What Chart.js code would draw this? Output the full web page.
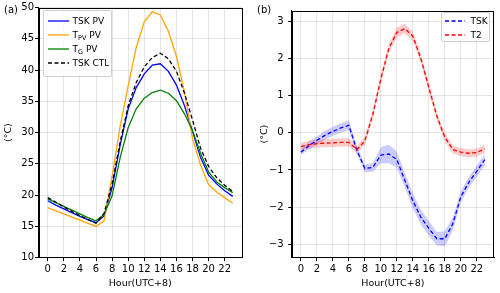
<!DOCTYPE html>
<html>
<head>
<meta charset="utf-8">
<script src="https://cdn.jsdelivr.net/npm/chart.js@4.4.1/dist/chart.umd.min.js"></script>
<style>
body{margin:0;background:#fff;font-family:"DejaVu Sans",sans-serif;}
#wrap{position:relative;width:500px;height:293px;overflow:hidden;}
canvas{position:absolute;top:0;}
.tag{position:absolute;font-size:10px;color:#000;}
.legend{position:absolute;background:rgba(255,255,255,0.8);border:1px solid #cfcfcf;border-radius:2px;box-sizing:border-box;}
.row{position:absolute;height:14px;line-height:14px;font-size:9px;white-space:nowrap;color:#000;}
.sw{position:absolute;overflow:visible;}
sub{font-size:6.5px;vertical-align:-2px;line-height:0;}
</style>
</head>
<body>
<div id="wrap">
  <canvas id="ca" width="250" height="293" style="left:0"></canvas>
  <canvas id="cb" width="250" height="293" style="left:250px"></canvas>
  <div class="tag" style="left:4px;top:4px">(a)</div>
  <div class="tag" style="left:257px;top:4px">(b)</div>

  <div class="legend" style="left:42.5px;top:10px;width:69px;height:67px">
    <svg class="sw" style="left:4px;top:7px" width="21" height="6"><line x1="0" y1="3" x2="21" y2="3" stroke="#0000ff" stroke-width="1.3"/></svg>
    <div class="row" style="left:29px;top:3px">TSK PV</div>
    <svg class="sw" style="left:4px;top:20.5px" width="21" height="6"><line x1="0" y1="3" x2="21" y2="3" stroke="#ffa500" stroke-width="1.3"/></svg>
    <div class="row" style="left:29px;top:16.5px">T<sub>PV</sub> PV</div>
    <svg class="sw" style="left:4px;top:34.5px" width="21" height="6"><line x1="0" y1="3" x2="21" y2="3" stroke="#008000" stroke-width="1.3"/></svg>
    <div class="row" style="left:29px;top:30.5px">T<sub>G</sub> PV</div>
    <svg class="sw" style="left:4px;top:48.5px" width="21" height="6"><line x1="0" y1="3" x2="21" y2="3" stroke="#000" stroke-width="1.3" stroke-dasharray="4 2.5"/></svg>
    <div class="row" style="left:29px;top:44.5px">TSK CTL</div>
  </div>

  <div class="legend" style="left:440.5px;top:12px;width:49px;height:30px">
    <svg class="sw" style="left:3.5px;top:5px" width="20" height="6"><line x1="0" y1="3" x2="20" y2="3" stroke="#0000ff" stroke-width="1.3" stroke-dasharray="4 2.5"/></svg>
    <div class="row" style="left:29px;top:1px">TSK</div>
    <svg class="sw" style="left:3.5px;top:18.5px" width="20" height="6"><line x1="0" y1="3" x2="20" y2="3" stroke="#ff0000" stroke-width="1.3" stroke-dasharray="4 2.5"/></svg>
    <div class="row" style="left:29px;top:14.5px">T2</div>
  </div>
</div>

<script>
// hours and ticks
var hours = [0,1,2,3,4,5,6,7,8,9,10,11,12,13,14,15,16,17,18,19,20,21,22,23];
var hourTicks = [0,2,4,6,8,10,12,14,16,18,20,22];
var tempTicks = [10,15,20,25,30,35,40,45,50];
var diffTicks = [-3,-2,-1,0,1,2,3];

// (a) temperatures
var tskPV  = [19.1,18.4,17.8,17.2,16.6,16.1,15.6,16.7,21.2,28.0,33.8,37.2,39.4,40.8,41.0,39.8,37.6,34.3,30.2,26.0,23.2,21.8,20.7,19.8];
var tPV    = [18.0,17.5,17.0,16.5,16.0,15.5,15.0,15.9,23.0,31.0,37.5,43.6,47.7,49.3,48.8,46.2,42.2,36.5,29.0,24.8,21.7,20.5,19.6,18.7];
var tG     = [19.4,18.8,18.2,17.6,17.0,16.4,15.9,16.9,19.9,26.0,30.8,33.8,35.5,36.4,36.8,36.3,35.1,33.0,30.3,26.7,23.7,22.1,21.2,20.4];
var tskCTL = [19.6,18.9,18.1,17.4,16.7,16.1,15.5,17.1,21.8,28.5,34.3,38.0,40.5,42.0,42.7,41.8,39.8,36.3,32.0,27.5,24.6,22.8,21.6,20.6];

// (b) differences with spread
var dTSK      = [-0.52,-0.35,-0.20,-0.07,0.04,0.13,0.20,-0.47,-0.96,-0.93,-0.60,-0.57,-0.72,-1.28,-1.83,-2.27,-2.57,-2.85,-2.85,-2.45,-1.72,-1.33,-1.03,-0.72];
var dTSKupper = [-0.44,-0.25,-0.09,0.05,0.16,0.26,0.33,-0.37,-0.86,-0.81,-0.38,-0.32,-0.50,-1.08,-1.63,-2.07,-2.37,-2.67,-2.65,-2.27,-1.57,-1.18,-0.88,-0.57];
var dTSKlower = [-0.60,-0.45,-0.31,-0.19,-0.08,0.00,0.07,-0.57,-1.06,-1.05,-0.82,-0.82,-0.94,-1.48,-2.03,-2.47,-2.77,-3.03,-3.05,-2.63,-1.87,-1.48,-1.18,-0.87];
var dT2       = [-0.37,-0.32,-0.29,-0.28,-0.27,-0.26,-0.26,-0.45,-0.22,0.50,1.45,2.27,2.70,2.80,2.60,2.00,1.22,0.45,-0.12,-0.45,-0.52,-0.55,-0.53,-0.43];
var dT2upper  = [-0.27,-0.21,-0.18,-0.17,-0.16,-0.15,-0.15,-0.35,-0.11,0.61,1.57,2.39,2.83,2.93,2.73,2.12,1.34,0.56,-0.01,-0.34,-0.41,-0.44,-0.42,-0.32];
var dT2lower  = [-0.47,-0.43,-0.40,-0.39,-0.38,-0.37,-0.37,-0.55,-0.33,0.39,1.33,2.15,2.57,2.67,2.47,1.88,1.10,0.34,-0.23,-0.56,-0.63,-0.66,-0.64,-0.54];

Chart.defaults.font.family = '"DejaVu Sans", sans-serif';
Chart.defaults.color = '#000';

function pts(ys){ return hours.map(function(h,i){ return {x:h, y:ys[i]}; }); }

// order: lower number is drawn on top, so later series (as in matplotlib) get lower numbers
function line(ys, color, dash, order){
  return {data:pts(ys), borderColor:color, borderWidth:1.3, borderDash:dash||[], pointRadius:0, fill:false, tension:0, order:order};
}

var frame = {
  id:'frame',
  afterDatasetsDraw:function(chart){
    var a = chart.chartArea, ctx = chart.ctx;
    ctx.save();
    ctx.strokeStyle = '#000';
    ctx.lineWidth = 1;
    ctx.strokeRect(Math.round(a.left)+0.5, Math.round(a.top)+0.5, Math.round(a.right-a.left)-1, Math.round(a.bottom-a.top)-1);
    ctx.restore();
  }
};

function axes(ymin, ymax, yticks, yWidth, titleOff, minus){
  return {
    x:{type:'linear', min:-1.15, max:24.15,
       afterBuildTicks:function(s){ s.ticks = hourTicks.map(function(v){return {value:v};}); },
       afterFit:function(s){ s.height = 35.3; },
       ticks:{font:{size:10}, padding:2, maxRotation:0, autoSkip:false},
       grid:{color:'rgba(0,0,0,0.1)', tickColor:'#000', tickLength:3.5},
       border:{color:'#000'},
       title:{display:true, text:'Hour(UTC+8)', font:{size:9.5}, padding:{top:0,bottom:4}}},
    y:{min:ymin, max:ymax,
       afterBuildTicks:function(s){ s.ticks = yticks.map(function(v){return {value:v};}); },
       afterFit:function(s){ s.width = yWidth; },
       ticks:{font:{size:10}, padding:minus ? 4.5 : 1,
              callback:function(v){ return v < 0 ? '\u2212' + Math.abs(v) : String(v); }},
       grid:{color:'rgba(0,0,0,0.1)', tickColor:'#000', tickLength:3.5},
       border:{color:'#000'},
       title:{display:true, text:'(°C)', font:{size:9.5}, padding:{top:titleOff,bottom:0}}}
  };
}

new Chart(document.getElementById('ca'), {
  type:'line',
  data:{datasets:[
    line(tskPV, '#0000ff', null, 4),
    line(tPV, '#ffa500', null, 3),
    line(tG, '#008000', null, 2),
    line(tskCTL, '#000000', [4,2.5], 1)
  ]},
  options:{
    responsive:false, animation:false, devicePixelRatio:1,
    layout:{padding:{top:7.5, right:8, left:0, bottom:0}},
    plugins:{legend:{display:false}, tooltip:{enabled:false}},
    scales:axes(10, 50, tempTicks, 38.5, 3.3, false)
  },
  plugins:[frame]
});

function band(ys, color, fill, order){
  return {data:pts(ys), borderWidth:0, pointRadius:0, backgroundColor:color, fill:fill, tension:0, order:order};
}

new Chart(document.getElementById('cb'), {
  type:'line',
  data:{datasets:[
    band(dTSKlower, 'rgba(0,0,255,0.2)', false, 6),
    band(dTSKupper, 'rgba(0,0,255,0.2)', '-1', 5),
    band(dT2lower, 'rgba(255,0,0,0.2)', false, 4),
    band(dT2upper, 'rgba(255,0,0,0.2)', '-1', 3),
    line(dTSK, '#0000ff', [4,2.5], 2),
    line(dT2, '#ff0000', [4,2.5], 1)
  ]},
  options:{
    responsive:false, animation:false, devicePixelRatio:1,
    layout:{padding:{top:7.5, right:6, left:0, bottom:0}},
    plugins:{legend:{display:false}, tooltip:{enabled:false}},
    scales:axes(-3.36, 3.29, diffTicks, 41.7, 9.3, true)
  },
  plugins:[frame]
});
</script>
</body>
</html>
